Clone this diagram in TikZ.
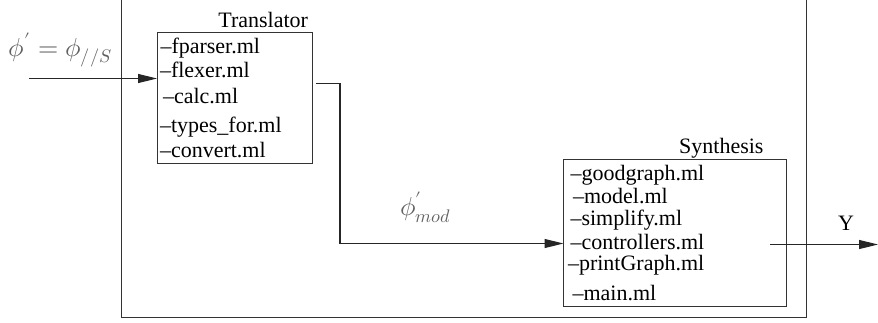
\documentclass[tikz,border=0pt]{standalone}
\usepackage{fontspec}
\usepackage{unicode-math}
\setmainfont{Liberation Serif}
\setmathfont{Latin Modern Math}
\usetikzlibrary{arrows.meta}
\begin{document}
\begin{tikzpicture}[x=1pt,y=-1pt,
  every node/.style={inner sep=0pt,outer sep=0pt,font=\fontsize{22}{26}\selectfont},
  item/.style={anchor=base west},
  title/.style={anchor=base east},
  mathlbl/.style={anchor=base west,text=black!62,font=\fontsize{26}{30}\selectfont},
  wire/.style={line width=1.1pt,black!85},
  frame/.style={line width=1pt,black!80},
  flow/.style={wire,-{Triangle[length=19pt,width=9pt]}}]
\useasboundingbox (0,0) rectangle (878,322);

% enclosing frame (its top edge lies above the drawn area)
\draw[frame] (121,0) -- (121,317) -- (806.5,317) -- (806.5,0);

% Translator module
\node[draw,frame,minimum width=155pt,minimum height=131pt,anchor=north west] (tr) at (157,32) {};
\node[title] (trt) at (308,27) {Translator};
\node[item] (t1) at (160.5,53.5) {--fparser.ml};
\node[item] (t2) at (160,77.5) {--flexer.ml};
\node[item] (t3) at (163,103) {--calc.ml};
\node[item] (t4) at (160,132) {--types\_for.ml};
\node[item] (t5) at (160,157.5) {--convert.ml};

% Synthesis module
\node[draw,frame,minimum width=223pt,minimum height=147pt,anchor=north west] (sy) at (563.5,159.5) {};
\node[title] (syt) at (763.5,153.5) {Synthesis};
\node[item] (s1) at (570.5,180) {--goodgraph.ml};
\node[item] (s2) at (573,203.5) {--model.ml};
\node[item] (s3) at (570.5,225) {--simplify.ml};
\node[item] (s4) at (570.5,249.5) {--controllers.ml};
\node[item] (s5) at (568,270.5) {--printGraph.ml};
\node[item] (s6) at (572.5,300) {--main.ml};

% input signal
\coordinate (in) at (29,78.5);
\draw[flow] (in) -- (in -| tr.west);
\node[mathlbl] (phi) at (9,56) {$\phi' = \phi_{//S}$};

% Translator -> Synthesis
\coordinate (a) at (316,83.5);
\coordinate (b) at (340,83.5);
\coordinate (c) at (340,243.5);
\draw[wire] (a) -- (b) -- (c);
\draw[flow] (c) -- (c -| sy.west);
\node[mathlbl] (mod) at (400,215) {$\phi'_{mod}$};

% output signal
\coordinate (o1) at (770,244.5);
\coordinate (o2) at (878,244.5);
\draw[flow] (o1) -- (o2);
\node[item] (y) at (838,230) {Y};
\end{tikzpicture}
\end{document}
